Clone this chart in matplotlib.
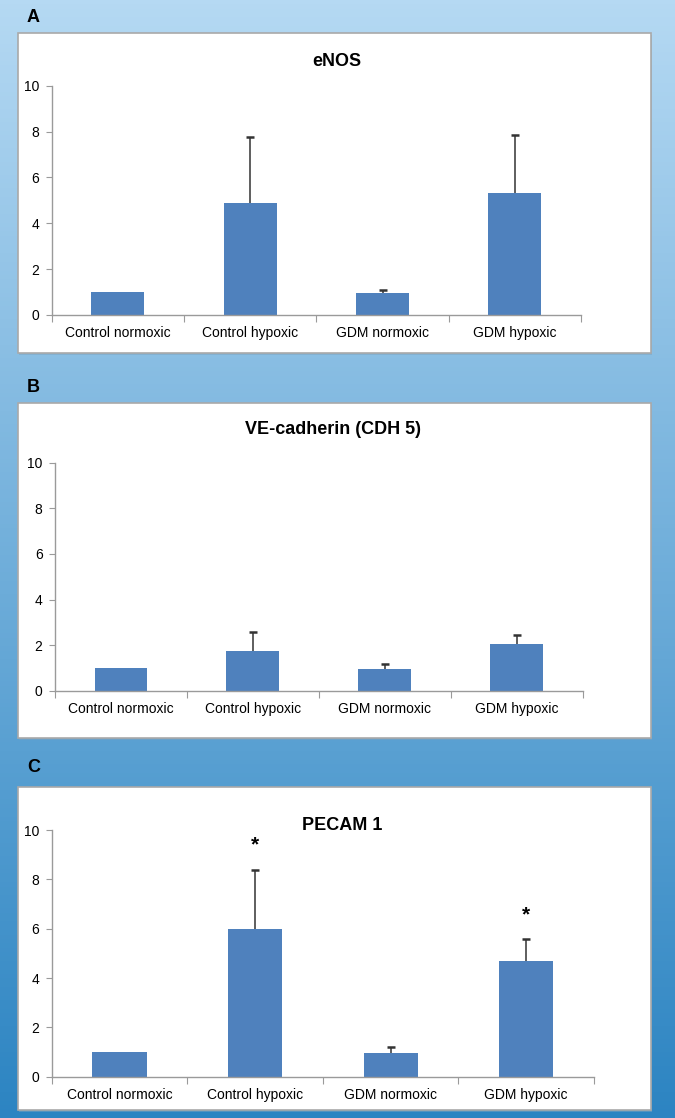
import matplotlib.pyplot as plt
import matplotlib.patches as mpatches
import numpy as np

plt.rcParams['font.family'] = ['Liberation Sans', 'DejaVu Sans']

categories = ["Control normoxic", "Control hypoxic", "GDM normoxic", "GDM hypoxic"]

enos_vals = [1.0, 4.9, 0.97, 5.3]
enos_err = [0.0, 2.88, 0.12, 2.53]

cdh5_vals = [1.0, 1.74, 0.96, 2.03]
cdh5_err = [0.0, 0.82, 0.21, 0.41]

pecam_vals = [1.0, 6.0, 0.95, 4.69]
pecam_err = [0.0, 2.38, 0.24, 0.89]
pecam_stars = [None, 9.4, None, 6.55]

W, H = 675, 1118
fig = plt.figure(figsize=(W / 100, H / 100), dpi=100)


def rect(x0, y0, x1, y1):
    return [x0 / W, 1 - y1 / H, (x1 - x0) / W, (y1 - y0) / H]


# gradient background
bg = fig.add_axes([0, 0, 1, 1], zorder=-10)
top = np.array([181, 217, 243]) / 255
bot = np.array([44, 132, 194]) / 255
t = np.linspace(0, 1, 256)[:, None]
grad = top[None, None, :] * (1 - t[:, :, None]) + bot[None, None, :] * t[:, :, None]
grad = np.repeat(grad, 2, axis=1)
bg.imshow(grad, aspect='auto', extent=[0, 1, 0, 1])
bg.set_axis_off()

panels = [
    dict(letter="A", title="eNOS", vals=enos_vals, err=enos_err, stars=None,
         box=(18, 33, 651, 353), ax=(51.7, 85.7, 581, 315), title_xy=(337, 62), letter_y=18),
    dict(letter="B", title="VE-cadherin (CDH 5)", vals=cdh5_vals, err=cdh5_err, stars=None,
         box=(18, 403, 651, 738), ax=(55, 462.7, 582.5, 690.7), title_xy=(333, 430), letter_y=387),
    dict(letter="C", title="PECAM 1", vals=pecam_vals, err=pecam_err, stars=pecam_stars,
         box=(18, 787, 651, 1110), ax=(51.7, 830, 594, 1076.7), title_xy=(342, 825), letter_y=768),
]

axis_grey = '#9a9a9a'
bar_color = '#4F81BD'

for p in panels:
    bx0, by0, bx1, by1 = p["box"]
    fig.patches.append(mpatches.Rectangle((bx0 / W + 0.002, 1 - (by1 + 2) / H), (bx1 - bx0) / W, (by1 - by0) / H,
                                          transform=fig.transFigure, facecolor='#7fa3bf', edgecolor='none',
                                          alpha=0.5, zorder=-5))
    fig.patches.append(mpatches.Rectangle((bx0 / W, 1 - by1 / H), (bx1 - bx0) / W, (by1 - by0) / H,
                                          transform=fig.transFigure, facecolor='white', edgecolor='#a9a9a9',
                                          linewidth=1.2, zorder=-4))
    fig.text(27 / W, 1 - p["letter_y"] / H, p["letter"], fontsize=13, fontweight='bold',
             ha='left', va='center')
    fig.text(p["title_xy"][0] / W, 1 - p["title_xy"][1] / H, p["title"], fontsize=13,
             fontweight='bold', ha='center', va='center')

    ax = fig.add_axes(rect(*p["ax"]))
    ax.patch.set_alpha(0)
    x = np.arange(len(categories))
    vals = np.array(p["vals"])
    errs = np.array(p["err"])
    ax.bar(x, vals, width=0.4, color=bar_color, zorder=2)
    # upper-only error bars
    has = errs > 0
    ax.vlines(x[has], vals[has], vals[has] + errs[has], color='#333333', linewidth=1.1, zorder=3)
    ax.plot(x[has], vals[has] + errs[has], linestyle='none', marker='_', markersize=6,
            markeredgewidth=1.8, color='#333333', zorder=3)
    if p["stars"]:
        for xi, s in zip(x, p["stars"]):
            if s is not None:
                ax.text(xi, s, "*", ha='center', va='center', fontsize=15, fontweight='bold')

    ax.set_xlim(-0.5, len(categories) - 0.5)
    ax.set_ylim(0, 10)
    ax.set_yticks([0, 2, 4, 6, 8, 10])
    ax.set_xticks(np.arange(-0.5, len(categories), 1.0))
    ax.set_xticklabels([])
    ax.set_xticks(x, minor=True)
    ax.set_xticklabels(categories, minor=True, fontsize=10)
    ax.tick_params(axis='x', which='minor', length=0, pad=8)
    ax.tick_params(axis='x', which='major', length=5, color=axis_grey, direction='out')
    ax.tick_params(axis='y', length=4, color=axis_grey, labelsize=10, pad=5)
    for side in ['top', 'right']:
        ax.spines[side].set_visible(False)
    for side in ['left', 'bottom']:
        ax.spines[side].set_color(axis_grey)
        ax.spines[side].set_linewidth(1.0)

fig.savefig("out.png", dpi=100)
